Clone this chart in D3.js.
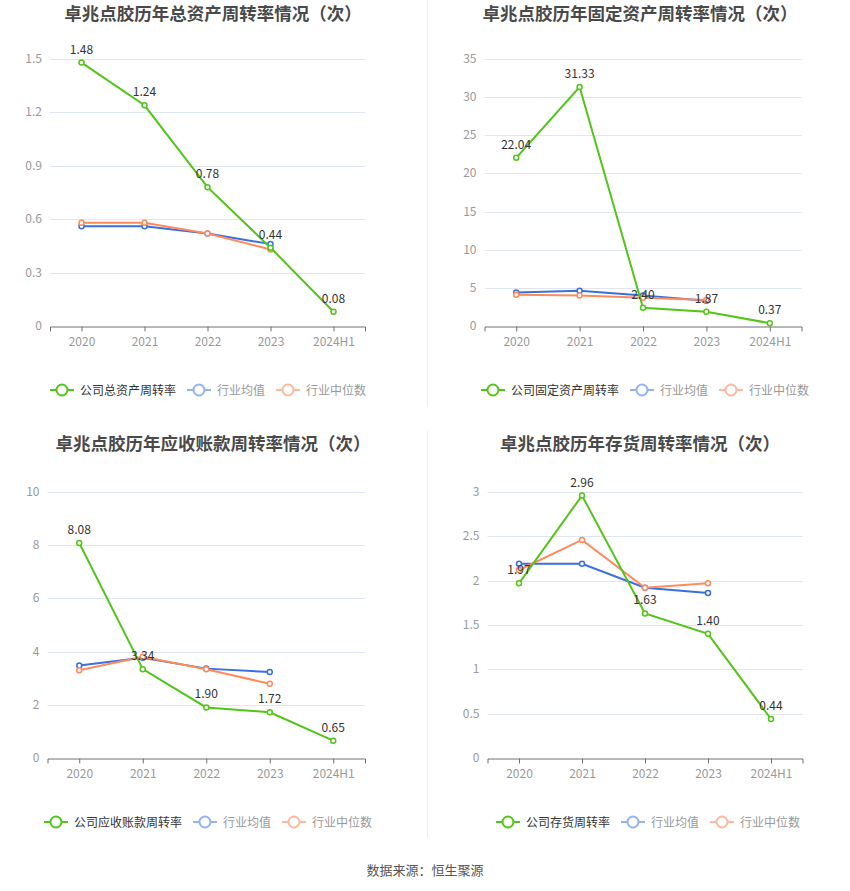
<!DOCTYPE html>
<html><head><meta charset="utf-8">
<script src="https://cdn.jsdelivr.net/npm/d3@7"></script>
<style>body{margin:0;background:#fff;}svg{display:block;font-family:"Noto Sans CJK SC","Noto Sans",sans-serif;}</style>
</head><body><svg id="c" width="850" height="891"></svg>
<script>
const categories = ["2020","2021","2022","2023","2024H1"];
const titles = ["卓兆点胶历年总资产周转率情况（次）","卓兆点胶历年固定资产周转率情况（次）","卓兆点胶历年应收账款周转率情况（次）","卓兆点胶历年存货周转率情况（次）"];
const companyNames = ["公司总资产周转率","公司固定资产周转率","公司应收账款周转率","公司存货周转率"];
const seriesNames = ["行业均值","行业中位数"];
const companyTotal = [1.48,1.24,0.78,0.44,0.08];
const meanTotal = [0.56,0.56,0.52,0.46];
const medianTotal = [0.58,0.58,0.52,0.43];
const companyFixed = [22.04,31.33,2.40,1.87,0.37];
const meanFixed = [4.4,4.63,4.0,3.3];
const medianFixed = [4.1,4.0,3.7,3.4];
const companyRecv = [8.08,3.34,1.90,1.72,0.65];
const meanRecv = [3.48,3.77,3.36,3.23];
const medianRecv = [3.3,3.81,3.34,2.79];
const companyInv = [1.97,2.96,1.63,1.40,0.44];
const meanInv = [2.19,2.19,1.92,1.86];
const medianInv = [2.12,2.46,1.92,1.97];
const yTicks = [[0,0.3,0.6,0.9,1.2,1.5],[0,5,10,15,20,25,30,35],[0,2,4,6,8,10],[0,0.5,1,1.5,2,2.5,3]];

const panels = [
 {title:titles[0],name:companyNames[0],c:companyTotal,m:meanTotal,d:medianTotal,ticks:yTicks[0],x0:50,x1:365,yTop:59,yBot:326,titleX:213,titleY:20,legY:390,legX:208},
 {title:titles[1],name:companyNames[1],c:companyFixed,m:meanFixed,d:medianFixed,ticks:yTicks[1],x0:484.5,x1:801.5,yTop:59,yBot:326,titleX:640,titleY:20,legY:390,legX:645},
 {title:titles[2],name:companyNames[2],c:companyRecv,m:meanRecv,d:medianRecv,ticks:yTicks[2],x0:47.5,x1:365,yTop:492,yBot:758,titleX:213,titleY:450,legY:822,legX:208},
 {title:titles[3],name:companyNames[3],c:companyInv,m:meanInv,d:medianInv,ticks:yTicks[3],x0:487.5,x1:802.5,yTop:492,yBot:758,titleX:640,titleY:450,legY:822,legX:648}
];
const GREEN="#52c41a", BLUE="#3a6fe0", ORANGE="#ff8a5b";
const LBLUE="#93b2f2", LORANGE="#ffb89e";
const svg = d3.select("#c");
svg.append("line").attr("x1",427.5).attr("x2",427.5).attr("y1",0).attr("y2",407).attr("stroke","#eeeeee");
svg.append("line").attr("x1",427.5).attr("x2",427.5).attr("y1",431).attr("y2",838).attr("stroke","#eeeeee");

panels.forEach(p=>{
  const g = svg.append("g");
  const x = d3.scalePoint().domain(categories).range([p.x0,p.x1]).padding(0.5);
  const band = (p.x1-p.x0)/categories.length;
  const y = d3.scaleLinear().domain([0,d3.max(p.ticks)]).range([p.yBot,p.yTop]);
  g.append("text").attr("x",p.titleX).attr("y",p.titleY).attr("text-anchor","middle")
    .attr("font-size",17.5).attr("font-weight","bold").attr("fill","#4a4a4a").text(p.title);
  // grid
  g.selectAll(".grid").data(p.ticks.filter(t=>t>0)).enter().append("line")
    .attr("x1",p.x0).attr("x2",p.x1).attr("y1",d=>Math.round(y(d))+0.5).attr("y2",d=>Math.round(y(d))+0.5)
    .attr("stroke","#e0e6f1");
  // y labels
  g.selectAll(".yl").data(p.ticks).enter().append("text")
    .attr("x",p.x0-8).attr("y",d=>y(d)+4).attr("text-anchor","end").attr("font-size",12).attr("fill","#999")
    .text(d=>d);
  // x axis
  const xa = d3.axisBottom(d3.scaleLinear().domain([0,categories.length]).range([p.x0,p.x1]))
    .tickValues(d3.range(categories.length).map(i=>i+0.5)).tickSize(5).tickFormat((d,i)=>categories[i]);
  const ax = g.append("g").attr("transform",`translate(0,${Math.round(p.yBot)+0.5})`).call(xa);
  ax.select(".domain").attr("stroke","#6e7079");
  ax.selectAll(".tick line").attr("stroke","#6e7079");
  ax.selectAll(".tick text").attr("fill","#999").attr("font-size",12).attr("dy","0.95em")
    .style("font-family",'"Noto Sans CJK SC","Noto Sans",sans-serif');
  const line = d3.line().x((d,i)=>x(categories[i])).y(d=>y(d));
  const drawSeries=(vals,color,labels)=>{
    g.append("path").datum(vals).attr("d",line).attr("fill","none").attr("stroke",color).attr("stroke-width",2);
    g.selectAll(null).data(vals).enter().append("circle")
      .attr("cx",(d,i)=>x(categories[i])).attr("cy",d=>y(d)).attr("r",2.5)
      .attr("fill","#fff").attr("stroke",color).attr("stroke-width",1.5);
    if(labels){
      g.selectAll(null).data(vals).enter().append("text")
        .attr("x",(d,i)=>x(categories[i])).attr("y",d=>y(d)-9).attr("text-anchor","middle")
        .attr("font-size",12).attr("fill","#333").text(d=>d.toFixed(2));
    }
  };
  drawSeries(p.m,BLUE,false);
  drawSeries(p.d,ORANGE,false);
  drawSeries(p.c,GREEN,true);
  // legend
  const items=[{n:p.name,c:GREEN,t:"#333"},{n:seriesNames[0],c:LBLUE,t:"#999"},{n:seriesNames[1],c:LORANGE,t:"#999"}];
  const lg = g.append("g");
  let cx=0;
  items.forEach(it=>{
    const ig=lg.append("g").attr("transform",`translate(${cx},0)`);
    ig.append("line").attr("x1",0).attr("x2",24).attr("y1",0).attr("y2",0).attr("stroke",it.c).attr("stroke-width",2);
    ig.append("circle").attr("cx",12).attr("cy",0).attr("r",5.5).attr("fill","#fff").attr("stroke",it.c).attr("stroke-width",2);
    const t=ig.append("text").attr("x",30).attr("y",4.5).attr("font-size",12).attr("fill",it.t).text(it.n);
    cx += 30 + t.node().getComputedTextLength() + 11;
  });
  const w = cx-11;
  lg.attr("transform",`translate(${p.legX-w/2},${p.legY})`);
});
svg.append("text").attr("x",425).attr("y",875).attr("text-anchor","middle").attr("font-size",13).attr("fill","#555").text("数据来源：恒生聚源");
</script></body></html>
